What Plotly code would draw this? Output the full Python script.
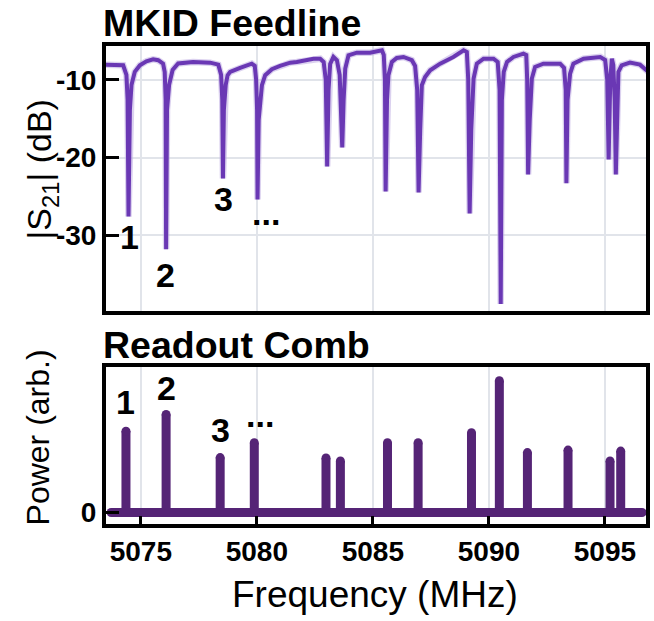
import plotly.graph_objects as go

# ---------------- data ----------------
# |S21| trace: frequency (MHz) and magnitude (dB)
s21_freq = [
    5073.42, 5074.24, 5074.38, 5074.43, 5074.47, 5074.53, 5074.60, 5074.74, 5074.96,
    5075.24, 5075.53, 5075.75, 5075.96, 5076.03, 5076.07, 5076.09, 5076.13, 5076.22,
    5076.37, 5076.61, 5077.25, 5077.99, 5078.34, 5078.46, 5078.51, 5078.54, 5078.58,
    5078.66, 5078.74, 5078.85, 5079.28, 5079.78, 5079.91, 5079.97, 5080.01, 5080.03,
    5080.08, 5080.22, 5080.36, 5080.65, 5081.00, 5081.44, 5081.72, 5082.44, 5082.73,
    5082.88, 5082.97, 5083.03, 5083.09, 5083.16, 5083.30, 5083.45, 5083.57, 5083.68,
    5083.74, 5083.81, 5083.95, 5084.31, 5084.88, 5085.39, 5085.47, 5085.52, 5085.55,
    5085.61, 5085.67, 5085.82, 5086.03, 5086.32, 5086.68, 5086.82, 5086.91, 5086.97,
    5087.04, 5087.11, 5087.25, 5087.47, 5087.90, 5088.47, 5088.91, 5089.05, 5089.11,
    5089.17, 5089.24, 5089.34, 5089.48, 5089.77, 5090.20, 5090.38, 5090.46, 5090.51,
    5090.56, 5090.64, 5090.78, 5091.06, 5091.49, 5091.61, 5091.65, 5091.69, 5091.76,
    5091.85, 5091.99, 5092.35, 5093.07, 5093.24, 5093.31, 5093.34, 5093.39, 5093.50,
    5093.64, 5094.08, 5094.80, 5095.01, 5095.10, 5095.16, 5095.23, 5095.30, 5095.36,
    5095.42, 5095.47, 5095.53, 5095.58, 5095.72, 5096.08, 5096.51, 5096.81, 5096.87,
]
s21_db = [
    -8.04, -8.12, -9.36, -12.56, -27.6, -13.85, -10.64, -8.97, -8.12,
    -7.60, -7.35, -7.47, -7.91, -8.97, -12.56, -31.8, -13.85, -10.64,
    -8.72, -7.88, -7.69, -7.78, -8.04, -9.36, -12.56, -22.7, -13.85,
    -10.64, -9.40, -8.97, -8.46, -7.91, -8.20, -10.0, -13.85, -25.4,
    -15.13, -10.68, -9.40, -8.63, -8.20, -7.78, -7.69, -7.27, -7.27,
    -7.69, -10.0, -21.15, -11.28, -7.95, -7.05, -7.47, -9.36, -18.7,
    -12.56, -8.55, -6.83, -6.50, -6.50, -6.19, -6.79, -10.0, -24.36,
    -12.56, -9.40, -7.69, -7.18, -7.05, -7.47, -8.20, -11.28, -24.5,
    -16.4, -10.68, -9.62, -8.76, -7.91, -7.05, -6.19, -6.41, -10.0,
    -27.2, -16.4, -9.83, -7.91, -7.27, -7.27, -7.69, -11.28, -38.85,
    -12.56, -8.97, -7.69, -7.05, -6.63, -6.79, -10.0, -22.18, -15.13,
    -9.83, -8.33, -7.91, -7.91, -8.46, -11.28, -23.3, -12.56, -9.19,
    -7.91, -7.27, -7.05, -7.44, -10.0, -20.26, -10.0, -7.27, -8.08,
    -12.56, -22.18, -13.85, -8.97, -8.12, -7.78, -8.04, -8.76, -8.97,
]

# Readout comb tones: frequency (MHz) and relative power
comb_freq = [5074.36, 5076.09, 5078.42, 5079.89, 5082.98, 5083.60, 5085.63,
             5086.95, 5089.25, 5090.45, 5091.66, 5093.41, 5095.22, 5095.68]
comb_power = [0.617, 0.744, 0.417, 0.530, 0.414, 0.391, 0.530,
              0.530, 0.605, 1.000, 0.455, 0.474, 0.391, 0.466]
comb_span = [5073.72, 5096.60]

# labels
top_labels = ["1", "2", "3", "..."]
top_label_freq = [5074.52, 5076.05, 5078.55, 5080.40]
top_label_db = [-30.2, -35.1, -25.4, -27.1]
bot_labels = ["1", "2", "3", "..."]
bot_label_freq = [5074.32, 5076.11, 5078.42, 5080.14]
bot_label_pow = [0.84, 0.946, 0.63, 0.74]

x_ticks = [5075, 5080, 5085, 5090, 5095]
x_tick_text = ["5075", "5080", "5085", "5090", "5095"]
y_ticks_top = [-10, -20, -30]
y_tick_text_top = ["-10", "-20", "-30"]
y_ticks_bot = [0]
y_tick_text_bot = ["0"]
x_range = [5073.50, 5096.77]
y_range_top = [-39.82, -5.59]
y_range_bot = [-0.085, 1.104]

# ---------------- styling ----------------
W, H = 654, 621
PURPLE = "#6a38b4"
HALO = "rgba(190,172,225,0.55)"
COMB = "#552476"
GRID = "#e1e4ea"
FONT = "Liberation Sans"


def px_x(p):
    return p / W


def px_y(p):
    return 1 - p / H


fig = go.Figure()

# top panel traces
fig.add_trace(go.Scatter(x=s21_freq, y=s21_db, mode="lines",
                         line=dict(color=HALO, width=6.5), xaxis="x", yaxis="y",
                         hoverinfo="skip", showlegend=False))
fig.add_trace(go.Scatter(x=s21_freq, y=s21_db, mode="lines",
                         line=dict(color=PURPLE, width=4), xaxis="x", yaxis="y",
                         showlegend=False))

# bottom panel: comb
bx, by = [], []
for f, p in zip(comb_freq, comb_power):
    bx += [f, f, None]
    by += [0, p, None]
fig.add_trace(go.Scatter(x=bx, y=by, mode="lines", line=dict(color=COMB, width=9),
                         xaxis="x2", yaxis="y2", showlegend=False))
fig.add_trace(go.Scatter(x=comb_span, y=[0, 0], mode="lines",
                         line=dict(color=COMB, width=9),
                         xaxis="x2", yaxis="y2", showlegend=False))
fig.add_trace(go.Scatter(x=comb_freq + comb_span, y=comb_power + [0, 0], mode="markers",
                         marker=dict(color=COMB, size=9, line=dict(width=0)),
                         xaxis="x2", yaxis="y2", showlegend=False))

xdom = [px_x(106), px_x(646)]
top_dom = [px_y(314), px_y(46)]
bot_dom = [px_y(528), px_y(370)]

tickfont = dict(family=FONT, size=28, color="black", weight="bold")
line_common = dict(showline=True, mirror=True, linecolor="black", linewidth=4,
                   zeroline=False)

fig.update_layout(
    width=W, height=H,
    margin=dict(l=0, r=0, t=0, b=0),
    paper_bgcolor="white", plot_bgcolor="white",
    xaxis=dict(domain=xdom, range=x_range, anchor="y", tickvals=x_ticks,
               showticklabels=False, ticks="", gridcolor=GRID, gridwidth=2,
               **line_common),
    yaxis=dict(domain=top_dom, range=y_range_top, anchor="x", tickvals=y_ticks_top,
               ticktext=y_tick_text_top,
               ticks="inside", ticklen=13, tickwidth=3, tickcolor="black",
               tickfont=tickfont, gridcolor=GRID, gridwidth=2, **line_common),
    xaxis2=dict(domain=xdom, range=x_range, anchor="y2", tickvals=x_ticks,
                ticktext=x_tick_text,
                ticks="inside", ticklen=8, tickwidth=3, tickcolor="black",
                tickfont=tickfont, gridcolor=GRID, gridwidth=2, **line_common),
    yaxis2=dict(domain=bot_dom, range=y_range_bot, anchor="x2", tickvals=y_ticks_bot,
                ticktext=y_tick_text_bot,
                ticks="inside", ticklen=13, tickwidth=3, tickcolor="black",
                tickfont=tickfont, showgrid=False, **line_common),
)

ann = []
ann.append(dict(text="<b>MKID Feedline</b>", xref="paper", yref="paper",
                x=px_x(101), y=px_y(23), xanchor="left", yanchor="middle",
                showarrow=False, font=dict(family=FONT, size=37.5, color="black")))
ann.append(dict(text="<b>Readout Comb</b>", xref="paper", yref="paper",
                x=px_x(101), y=px_y(348), xanchor="left", yanchor="middle",
                showarrow=False, font=dict(family=FONT, size=37.5, color="black")))
ann.append(dict(text="|S<sub>21</sub>| (dB)", xref="paper", yref="paper",
                x=px_x(42), y=px_y(171), xanchor="center", yanchor="middle",
                textangle=-90, showarrow=False,
                font=dict(family=FONT, size=34, color="black")))
ann.append(dict(text="Power (arb.)", xref="paper", yref="paper",
                x=px_x(38), y=px_y(441), xanchor="center", yanchor="middle",
                textangle=-90, showarrow=False,
                font=dict(family=FONT, size=32, color="black")))
ann.append(dict(text="Frequency (MHz)", xref="paper", yref="paper",
                x=px_x(375), y=px_y(599), xanchor="center", yanchor="middle",
                showarrow=False, font=dict(family=FONT, size=37, color="black")))
for t, f, v in zip(top_labels, top_label_freq, top_label_db):
    ann.append(dict(text="<b>%s</b>" % t, x=f, y=v, xref="x", yref="y",
                    showarrow=False, font=dict(family=FONT, size=34, color="black")))
for t, f, v in zip(bot_labels, bot_label_freq, bot_label_pow):
    ann.append(dict(text="<b>%s</b>" % t, x=f, y=v, xref="x2", yref="y2",
                    showarrow=False, font=dict(family=FONT, size=34, color="black")))
fig.update_layout(annotations=ann)

fig.write_html("out.html")
